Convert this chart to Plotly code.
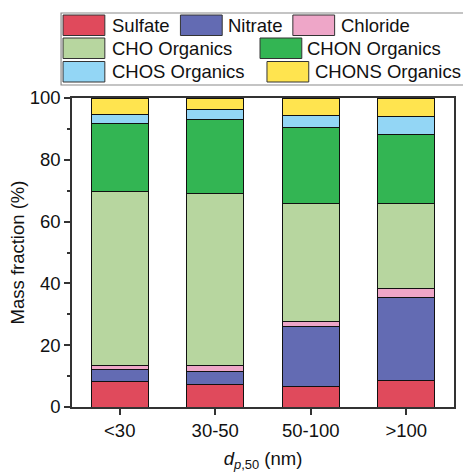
import plotly.graph_objects as go

# Size classes (median particle diameter)
categories = ["<30", "30-50", "50-100", ">100"]

# Mass fraction (%) of each component per size class
sulfate = [8.2, 7.3, 6.5, 8.6]
nitrate = [3.8, 4.2, 19.4, 27.0]
chloride = [1.3, 1.9, 1.8, 2.9]
cho_org = [56.6, 55.7, 38.2, 27.5]
chon_org = [21.9, 24.0, 24.7, 22.3]
chos_org = [2.8, 3.2, 3.8, 5.6]
chons_org = [5.4, 3.7, 5.6, 6.1]

series_names = ["Sulfate", "Nitrate", "Chloride", "CHO Organics",
                "CHON Organics", "CHOS Organics", "CHONS Organics"]
series_values = [sulfate, nitrate, chloride, cho_org, chon_org, chos_org, chons_org]
series_colors = ["#E04A5C", "#636BB3", "#EEA6C8", "#B7D69F",
                 "#33B553", "#93D6F5", "#FFE44F"]

yticks = [0, 20, 40, 60, 80, 100]

FONT = "Liberation Sans, Arial, sans-serif"
W, H = 463, 473
ML, MR, MT, MB = 72, 7, 98, 66
PW, PH = W - ML - MR, H - MT - MB


def px(x):
    return (x - ML) / PW


def py(y):
    return (H - MB - y) / PH


fig = go.Figure()
for name, vals, col in zip(series_names, series_values, series_colors):
    fig.add_trace(go.Bar(
        x=categories, y=vals, name=name, width=0.6,
        marker=dict(color=col, line=dict(color="#111111", width=1)),
        showlegend=False,
    ))

# Legend box with three rows of swatches
shapes = [dict(type="rect", xref="paper", yref="paper",
               x0=px(61), x1=px(470), y0=py(85), y1=py(13),
               line=dict(color="#8a8a8a", width=1.2), fillcolor="white", layer="above")]
annotations = []
legend_layout = [  # (swatch left, row top, text left)
    (63, 15, 112), (181, 15, 228), (294, 15, 342),
    (63, 38, 112), (261, 38, 308),
    (63, 61.5, 112), (268, 61.5, 316),
]
for (sx, sy, tx), name, col in zip(legend_layout, series_names, series_colors):
    shapes.append(dict(type="rect", xref="paper", yref="paper",
                       x0=px(sx), x1=px(sx + 42), y0=py(sy + 20.5), y1=py(sy),
                       line=dict(color="#333333", width=1), fillcolor=col, layer="above"))
    annotations.append(dict(xref="paper", yref="paper", x=px(tx - 1.5), y=py(sy + 10.5),
                            xanchor="left", yanchor="middle", showarrow=False,
                            text=name, font=dict(family=FONT, size=18.5, color="#111111")))

fig.update_layout(
    width=W, height=H,
    margin=dict(l=ML, r=MR, t=MT, b=MB),
    barmode="stack",
    plot_bgcolor="white", paper_bgcolor="white",
    font=dict(family=FONT, size=18, color="#111111"),
    shapes=shapes, annotations=annotations,
    showlegend=False,
)
fig.update_xaxes(
    range=[-0.5, 3.5], showline=True, linecolor="#333333", linewidth=1.5, mirror=True,
    ticks="outside", ticklen=6, tickwidth=1.5, tickcolor="#333333",
    title=dict(text="<i>d</i><sub><i>p</i>,50</sub> (nm)", standoff=12,
               font=dict(family=FONT, size=18.5)),
    tickfont=dict(family=FONT, size=18.5), showgrid=False,
)
fig.update_yaxes(
    range=[0, 100], tickvals=yticks, showline=True, linecolor="#333333", linewidth=1.5,
    mirror=True, ticks="outside", ticklen=6, tickwidth=1.5, tickcolor="#333333",
    minor=dict(dtick=10, tick0=10, ticks="outside", ticklen=3, tickwidth=1.5,
               tickcolor="#333333", showgrid=False),
    title=dict(text="Mass fraction (%)", standoff=0, font=dict(family=FONT, size=18.5)),
    tickfont=dict(family=FONT, size=18.5), showgrid=False, zeroline=False,
)

fig.write_html("out.html")
